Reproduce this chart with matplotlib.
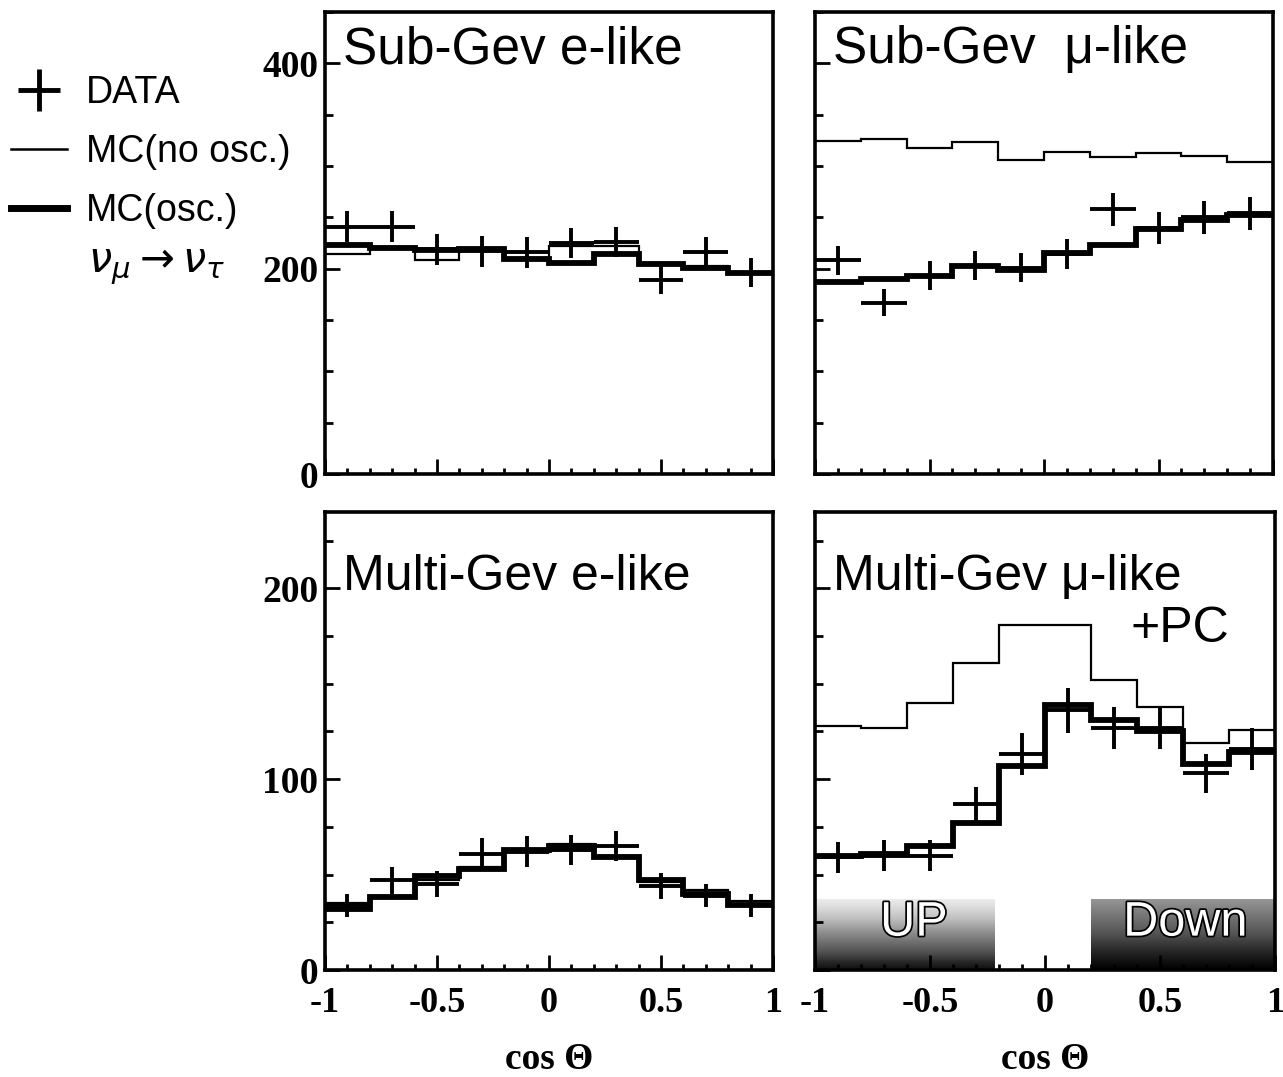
import numpy as np
import matplotlib.pyplot as plt
from matplotlib.lines import Line2D
import matplotlib.patheffects as pe

# cos(zenith) bin edges, 10 bins
cos_edges = [-1.0, -0.8, -0.6, -0.4, -0.2, 0.0, 0.2, 0.4, 0.6, 0.8, 1.0]
cos_centers = [-0.9, -0.7, -0.5, -0.3, -0.1, 0.1, 0.3, 0.5, 0.7, 0.9]

# Sub-GeV e-like
sub_e_data = [241, 241, 219, 217, 216, 225, 226, 189, 216, 196]
sub_e_err = [15.5, 15.5, 15, 15, 15, 15, 15, 14, 15, 14]
sub_e_noosc = [214, 221, 208, 217, 210, 222, 222, 206, 203, 196]
sub_e_osc = [223, 220, 218, 219, 209, 206, 214, 205, 201, 196]

# Sub-GeV mu-like
sub_mu_data = [208, 167, 193, 203, 201, 214, 258, 240, 250, 254]
sub_mu_err = [14.5, 13, 14, 14.5, 14, 14.5, 16, 15.5, 16, 16]
sub_mu_noosc = [324, 326, 318, 323, 306, 314, 309, 313, 310, 304]
sub_mu_osc = [187, 190, 193, 203, 199, 215, 223, 239, 247, 252]

# Multi-GeV e-like
multi_e_data = [34, 47, 45, 61, 62, 63, 65, 44, 39, 34]
multi_e_err = [6, 7, 7, 8, 8, 8, 8, 7, 6, 6]
multi_e_noosc = [35, 39, 47, 54, 62, 66, 60, 46, 42, 36]
multi_e_osc = [32, 38, 49, 53, 63, 65, 59, 47, 40, 34]

# Multi-GeV mu-like + PC
multi_mu_data = [59, 60, 60, 87, 113, 136, 127, 127, 103, 116]
multi_mu_err = [8, 8, 8, 9, 11, 12, 11, 11, 10, 11]
multi_mu_noosc = [128, 127, 140, 161, 181, 181, 152, 138, 119, 126]
multi_mu_osc = [60, 61, 65, 77, 107, 139, 131, 125, 108, 114]

panel_titles = ['Sub-Gev e-like', 'Sub-Gev  \u03bc-like', 'Multi-Gev e-like', 'Multi-Gev \u03bc-like']
xtick_labels = ['-1', '-0.5', '0', '0.5', '1']

SANS = ['Liberation Sans', 'DejaVu Sans']
SERIF = ['Liberation Serif', 'DejaVu Serif']

fig = plt.figure(figsize=(12.83, 10.77), dpi=100)

W, H = 1283.0, 1077.0
def ax_at(x0, x1, y0, y1):
    return fig.add_axes([x0 / W, 1 - y1 / H, (x1 - x0) / W, (y1 - y0) / H])

ax_tl = ax_at(325, 773, 12, 474)
ax_tr = ax_at(815, 1273, 12, 474)
ax_bl = ax_at(325, 773, 512, 970)
ax_br = ax_at(815, 1275, 512, 970)


def style_axes(ax, top_row, show_y, show_x):
    ax.set_xlim(-1, 1)
    if top_row:
        ax.set_ylim(0, 450)
        ax.set_yticks([0, 200, 400])
        ax.set_yticks(np.arange(0, 451, 50), minor=True)
    else:
        ax.set_ylim(0, 240)
        ax.set_yticks([0, 100, 200])
        ax.set_yticks(np.arange(0, 241, 25), minor=True)
    ax.set_xticks([-1, -0.5, 0, 0.5, 1])
    ax.set_xticks(np.arange(-1, 1.001, 0.1), minor=True)
    for s in ax.spines.values():
        s.set_linewidth(2.6)
    ax.tick_params(axis='both', which='both', direction='in', width=2, pad=5)
    ax.tick_params(axis='y', which='major', length=11)
    ax.tick_params(axis='y', which='minor', length=6)
    ax.tick_params(axis='x', which='major', length=11, pad=12)
    ax.tick_params(axis='x', which='minor', length=4)
    if show_y:
        ax.set_yticklabels([str(int(v)) for v in ax.get_yticks()],
                           family=SERIF, weight='bold', size=27)
    else:
        ax.set_yticklabels([])
    if show_x:
        ax.set_xticklabels(xtick_labels, family=SERIF, weight='bold', size=26)
        ax.set_xlabel('cos \u0398', family=SERIF, weight='bold', size=27, labelpad=16)
    else:
        ax.set_xticklabels([])


def draw_panel(ax, noosc, osc, data, err):
    ax.stairs(noosc, cos_edges, baseline=None, color='k', lw=1.6, zorder=3)
    ax.stairs(osc, cos_edges, baseline=None, color='k', lw=4.2, zorder=4)
    ax.errorbar(cos_centers, data, xerr=0.1, yerr=err, fmt='none',
                ecolor='k', elinewidth=2.8, capsize=0, zorder=5)


draw_panel(ax_tl, sub_e_noosc, sub_e_osc, sub_e_data, sub_e_err)
draw_panel(ax_tr, sub_mu_noosc, sub_mu_osc, sub_mu_data, sub_mu_err)
draw_panel(ax_bl, multi_e_noosc, multi_e_osc, multi_e_data, multi_e_err)
draw_panel(ax_br, multi_mu_noosc, multi_mu_osc, multi_mu_data, multi_mu_err)

style_axes(ax_tl, True, True, False)
style_axes(ax_tr, True, False, False)
style_axes(ax_bl, False, True, True)
style_axes(ax_br, False, False, True)

ax_tl.text(-0.92, 400, panel_titles[0], family=SANS, size=37, va='baseline')
ax_tr.text(-0.92, 400, panel_titles[1], family=SANS, size=37, va='baseline')
ax_bl.text(-0.92, 199, panel_titles[2], family=SANS, size=36, va='baseline')
ax_br.text(-0.92, 199, panel_titles[3], family=SANS, size=36, va='baseline')
ax_br.text(0.80, 172, '+PC', family=SANS, size=36, va='baseline', ha='right')

# UP / Down shaded bands (grey fade, darker at the bottom)
grad = np.linspace(1, 0, 64).reshape(-1, 1)
ax_br.imshow(0.15 + grad * 0.8, extent=(-1, -0.22, 0, 37), aspect='auto', cmap='Greys',
             vmin=0, vmax=1, zorder=1, origin='lower')
ax_br.imshow(0.5 + grad * 0.5, extent=(0.2, 1, 0, 37), aspect='auto', cmap='Greys',
             vmin=0, vmax=1, zorder=1, origin='lower')
outline = [pe.withStroke(linewidth=2.5, foreground='k')]
ax_br.text(-0.57, 18, 'UP', family=SANS, size=35, color='white', ha='center',
           va='baseline', path_effects=outline, zorder=6)
ax_br.text(0.61, 18, 'Down', family=SANS, size=35, color='white', ha='center',
           va='baseline', path_effects=outline, zorder=6)
ax_br.set_xlim(-1, 1)
ax_br.set_ylim(0, 240)

# hand written legend on the left
handles = [Line2D([], [], marker='+', markersize=30, mew=3.5, ls='none', color='k'),
           Line2D([], [], color='k', lw=1.8),
           Line2D([], [], color='k', lw=5)]
fig.legend(handles, ['DATA', 'MC(no osc.)', 'MC(osc.)'], loc='upper left',
           bbox_to_anchor=(-0.018, 0.962), frameon=False, handlelength=1.5,
           handletextpad=0.5, labelspacing=0.62, prop={'family': SANS, 'size': 27})
fig.text(88 / W, 1 - 266 / H, r'$\nu_\mu \rightarrow \nu_\tau$', size=30,
         va='center', ha='left')

fig.savefig('out.png', dpi=100)
